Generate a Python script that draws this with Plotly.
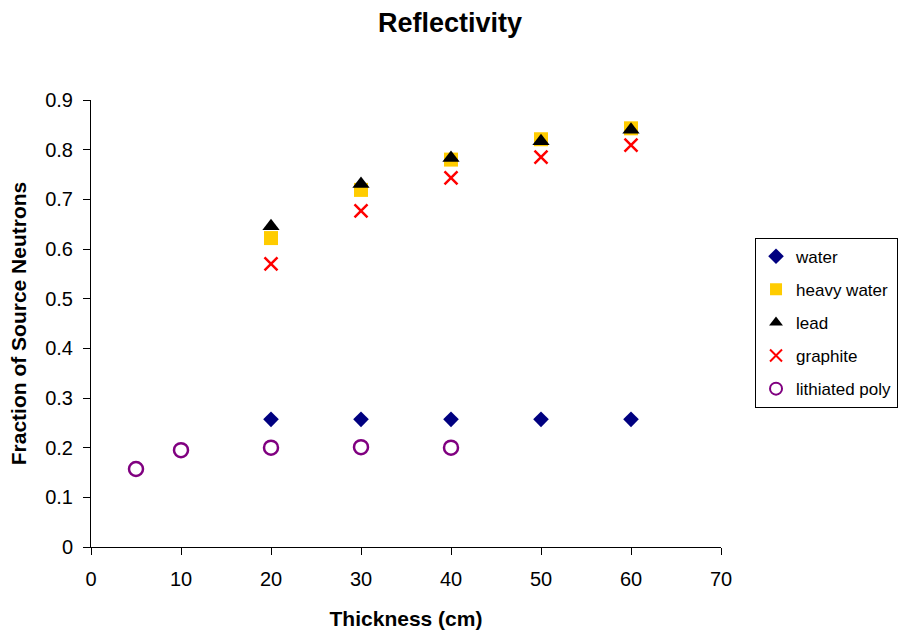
import plotly.graph_objects as go

# Reflectivity vs reflector thickness
thickness = [20, 30, 40, 50, 60]
water = [0.257, 0.257, 0.257, 0.257, 0.257]
heavy_water = [0.622, 0.719, 0.780, 0.821, 0.843]
lead = [0.646, 0.731, 0.783, 0.817, 0.840]
graphite = [0.570, 0.677, 0.743, 0.785, 0.809]

poly_thickness = [5, 10, 20, 30, 40]
lithiated_poly = [0.157, 0.195, 0.200, 0.201, 0.200]

x_ticks = [0, 10, 20, 30, 40, 50, 60, 70]
y_ticks = [0, 0.1, 0.2, 0.3, 0.4, 0.5, 0.6, 0.7, 0.8, 0.9]
y_tick_text = ["0", "0.1", "0.2", "0.3", "0.4", "0.5", "0.6", "0.7", "0.8", "0.9"]

series = [
    ("water", thickness, water, dict(symbol="diamond", size=12, color="#000080")),
    ("heavy water", thickness, heavy_water, dict(symbol="square", size=14, color="#FFCC00")),
    ("lead", thickness, lead, dict(symbol="triangle-up", size=15, color="#000000")),
    ("graphite", thickness, graphite,
     dict(symbol="x-thin", size=13, color="#FF0000", line=dict(color="#FF0000", width=2.5))),
    ("lithiated poly", poly_thickness, lithiated_poly,
     dict(symbol="circle-open", size=14, color="#800080", line=dict(color="#800080", width=2.5))),
]

fig = go.Figure()
for i, (name, xs, ys, marker) in enumerate(series):
    fig.add_trace(go.Scatter(
        x=xs, y=ys, mode="markers", name=name, marker=marker,
        legendgroup=f"g{i}",
    ))

fig.update_layout(
    width=909, height=630,
    paper_bgcolor="white", plot_bgcolor="white",
    margin=dict(l=91, r=188, t=100, b=83, autoexpand=False),
    font=dict(family="Liberation Sans, Arial, sans-serif", size=20, color="black"),
    title=dict(text="<b>Reflectivity</b>", x=0.495, xanchor="center", y=0.98, yanchor="top",
               font=dict(size=27, color="black")),
    showlegend=True,
    legend=dict(
        x=1.054, xanchor="left", y=0.692, yanchor="top",
        bordercolor="black", borderwidth=1, bgcolor="white",
        font=dict(size=17), traceorder="grouped", tracegroupgap=8,
        itemsizing="constant", itemwidth=30,
    ),
    xaxis=dict(
        range=[0, 70], tickvals=x_ticks, showgrid=False, zeroline=False,
        showline=True, linecolor="black", linewidth=1, automargin=False,
        ticks="outside", ticklen=7, tickcolor="black",
        tickfont=dict(size=20), ticklabelstandoff=7,
        title=dict(text="<b>Thickness (cm)</b>", font=dict(size=21), standoff=22),
    ),
    yaxis=dict(
        range=[0, 0.9], tickvals=y_ticks, ticktext=y_tick_text, showgrid=False, zeroline=False,
        showline=True, linecolor="black", linewidth=1, automargin=False,
        ticks="outside", ticklen=7, tickcolor="black",
        tickfont=dict(size=20), ticklabelstandoff=6,
        title=dict(text="<b>Fraction of Source Neutrons</b>", font=dict(size=21), standoff=12),
    ),
)

fig.write_html("out.html")
